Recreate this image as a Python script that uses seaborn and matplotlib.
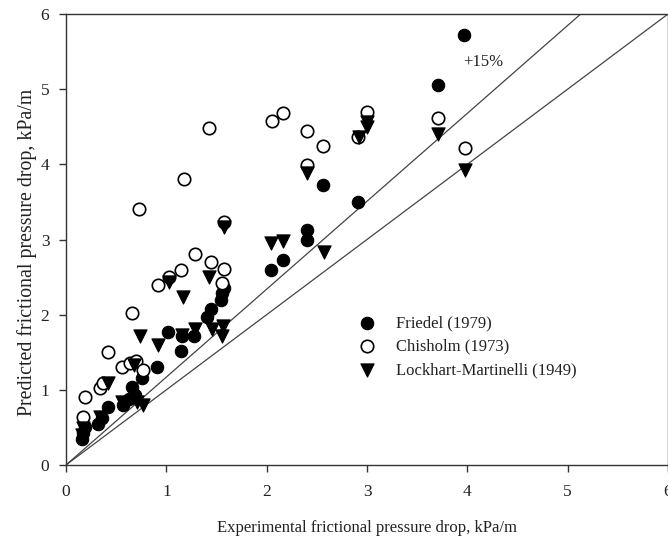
import matplotlib
matplotlib.use("Agg")
import matplotlib.pyplot as plt
import seaborn as sns
import pandas as pd

# ---- data ----
friedel_x = [0.16, 0.17, 0.19, 0.32, 0.36, 0.42, 0.57, 0.63, 0.69, 0.66, 0.76, 0.91, 1.02, 1.15,
             1.16, 1.28, 1.41, 1.45, 1.54, 1.55, 1.57, 2.04, 2.16, 2.40, 2.40, 2.56, 2.91, 3.71, 3.97]
friedel_y = [0.35, 0.42, 0.51, 0.55, 0.62, 0.77, 0.80, 0.88, 0.93, 1.04, 1.16, 1.30, 1.77, 1.52,
             1.72, 1.71, 1.97, 2.08, 2.19, 2.29, 2.36, 2.59, 2.73, 2.99, 3.12, 3.72, 3.50, 5.05, 5.72]

chisholm_x = [0.17, 0.19, 0.34, 0.37, 0.42, 0.56, 0.64, 0.70, 0.77, 0.66, 0.73, 0.92, 1.03, 1.15,
              1.18, 1.29, 1.43, 1.45, 1.55, 1.57, 1.57, 2.05, 2.16, 2.40, 2.40, 2.56, 2.91, 3.00,
              3.71, 3.98]
chisholm_y = [0.64, 0.91, 1.03, 1.09, 1.50, 1.30, 1.36, 1.38, 1.27, 2.02, 3.40, 2.40, 2.50, 2.59,
              3.80, 2.81, 4.48, 2.70, 2.42, 2.61, 3.23, 4.57, 4.68, 4.45, 3.99, 4.24, 4.37, 4.69,
              4.62, 4.22]

lm_x = [0.16, 0.17, 0.34, 0.42, 0.56, 0.71, 0.77, 0.68, 0.74, 0.92, 1.03, 1.16, 1.17, 1.29, 1.43,
        1.46, 1.56, 1.55, 1.57, 2.04, 2.16, 2.40, 2.57, 2.92, 3.00, 3.00, 3.71, 3.98]
lm_y = [0.40, 0.49, 0.64, 1.09, 0.84, 0.84, 0.80, 1.33, 1.72, 1.59, 2.44, 1.73, 2.24, 1.81, 2.50,
        1.81, 1.85, 1.72, 3.17, 2.95, 2.98, 3.88, 2.83, 4.36, 4.50, 4.56, 4.41, 3.93]

series_names = ["Friedel (1979)", "Chisholm (1973)", "Lockhart-Martinelli (1949)"]

line_x = [0, 6]
ideal_y = [0, 6]
upper_x = [0, 5.13]
upper_y = [0, 6]

x_ticks = [0, 1, 2, 3, 4, 5, 6]
y_ticks = [0, 1, 2, 3, 4, 5, 6]

# ---- plot ----
sns.set_theme(style="white")
plt.rcParams['font.family'] = ['Liberation Serif', 'DejaVu Serif']

fig = plt.figure(figsize=(6.68, 5.40), dpi=100)
ax = fig.add_axes([66 / 668, (540 - 465) / 540, (668 - 66) / 668, (465 - 14) / 540])

ax.plot(line_x, ideal_y, color="#444444", lw=0.9, zorder=1)
ax.plot(upper_x, upper_y, color="#444444", lw=0.9, zorder=1)

df_f = pd.DataFrame({"x": friedel_x, "y": friedel_y})
df_c = pd.DataFrame({"x": chisholm_x, "y": chisholm_y})
df_l = pd.DataFrame({"x": lm_x, "y": lm_y})

sns.scatterplot(data=df_f, x="x", y="y", ax=ax, marker="o", s=80, color="black",
                edgecolor="black", linewidth=0.8, label=series_names[0], zorder=3)
sns.scatterplot(data=df_c, x="x", y="y", ax=ax, marker="o", s=80, facecolor="white",
                edgecolor="black", linewidth=1.2, label=series_names[1], zorder=3)
sns.scatterplot(data=df_l, x="x", y="y", ax=ax, marker="v", s=90, color="black",
                edgecolor="black", linewidth=0.8, label=series_names[2], zorder=3)

ax.set_xlim(0, 6)
ax.set_ylim(0, 6)
ax.set_xticks(x_ticks)
ax.set_yticks(y_ticks)
ax.tick_params(axis="both", direction="out", length=5, width=1, color="#333333",
               labelsize=12.5, labelcolor="#222222", bottom=True, left=True)
ax.tick_params(axis="x", pad=9)
ax.tick_params(axis="y", pad=7)
for side in ["left", "bottom", "top", "right"]:
    ax.spines[side].set_color("#333333")
    ax.spines[side].set_linewidth(1.0)

ax.set_xlabel("Experimental frictional pressure drop, kPa/m", fontsize=12, color="#222222",
              labelpad=14)
ax.set_ylabel("Predicted frictional pressure drop, kPa/m", fontsize=14.3, color="#222222")
ax.yaxis.set_label_coords(-0.048, 0.472)

ax.text(3.96, 5.36, "+15%", fontsize=12, color="#222222", va="center", ha="left")

leg = ax.legend(loc="upper left", bbox_to_anchor=(0.462, 0.347), frameon=False,
                fontsize=12, handletextpad=0.7, labelspacing=0.45, borderaxespad=0)
for t in leg.get_texts():
    t.set_color("#222222")

fig.savefig("out.png", dpi=100)
